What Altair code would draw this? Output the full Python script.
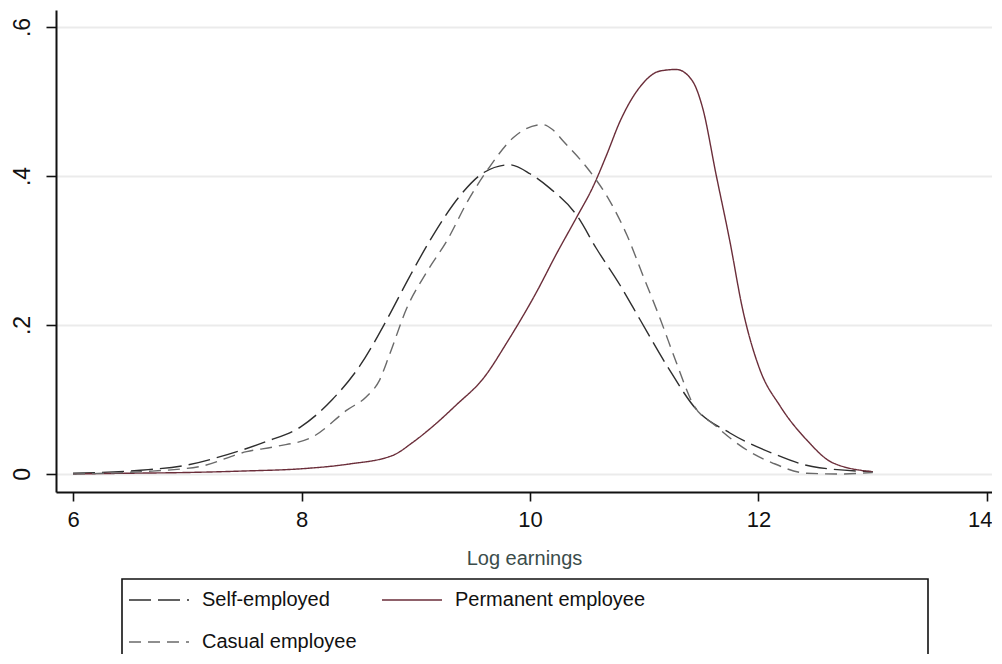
import altair as alt
import pandas as pd

# ---- data ----
series_names = ["Self-employed", "Casual employee", "Permanent employee"]

self_x = [6.0, 6.59, 7.0, 7.35, 7.7, 7.99, 8.27, 8.51, 8.75, 8.95, 9.15, 9.39, 9.6, 9.82,
          10.0, 10.17, 10.41, 10.58, 10.79, 10.96, 11.2, 11.46, 11.75, 12.12, 12.47, 13.0]
self_y = [0.001, 0.005, 0.012, 0.026, 0.044, 0.063, 0.1, 0.145, 0.208, 0.266, 0.32, 0.374, 0.405, 0.415,
          0.403, 0.384, 0.347, 0.303, 0.253, 0.208, 0.145, 0.086, 0.055, 0.028, 0.01, 0.003]

perm_x = [6.0, 6.5, 7.0, 7.5, 8.0, 8.4, 8.8, 8.97, 9.15, 9.35, 9.6, 9.8, 10.06, 10.23, 10.41, 10.55,
          10.67, 10.79, 10.96, 11.14, 11.28, 11.42, 11.51, 11.63, 11.75, 11.86, 12.01, 12.19, 12.42,
          12.65, 13.0]
perm_y = [0.0, 0.001, 0.002, 0.004, 0.007, 0.013, 0.025, 0.042, 0.064, 0.092, 0.13, 0.177, 0.245, 0.295,
          0.345, 0.385, 0.428, 0.474, 0.519, 0.541, 0.543, 0.528, 0.492, 0.401, 0.312, 0.222, 0.141,
          0.091, 0.046, 0.015, 0.003]

cas_x = [6.0, 6.59, 7.11, 7.52, 7.78, 8.1, 8.4, 8.57, 8.68, 8.77, 8.92, 9.1, 9.28, 9.45, 9.65, 9.85,
         10.11, 10.2, 10.29, 10.52, 10.7, 10.85, 10.99, 11.14, 11.28, 11.42, 11.63, 11.9, 12.12, 12.42,
         12.71, 13.0]
cas_y = [0.0, 0.003, 0.01, 0.03, 0.037, 0.05, 0.086, 0.104, 0.125, 0.16, 0.222, 0.272, 0.315, 0.365,
         0.413, 0.451, 0.469, 0.462, 0.447, 0.407, 0.366, 0.32, 0.266, 0.208, 0.15, 0.096, 0.064, 0.032,
         0.015, 0.001, 0.0, 0.002]

x_ticks = [6, 8, 10, 12, 14]
y_ticks = [0, 0.2, 0.4, 0.6]
y_tick_labels = ["0", ".2", ".4", ".6"]

# ---- build table ----
rows = []
for name, xs, ys in [("Self-employed", self_x, self_y),
                     ("Permanent employee", perm_x, perm_y),
                     ("Casual employee", cas_x, cas_y)]:
    for xv, yv in zip(xs, ys):
        rows.append({"series": name, "x": xv, "y": yv})
df = pd.DataFrame(rows)

label_expr = " : ".join(
    [f"datum.value == {v} ? '{l}'" for v, l in zip(y_ticks, y_tick_labels)]
) + " : ''"

FONT = "Liberation Sans, Arial, sans-serif"

color_map = {"Self-employed": "#2e2e2e", "Permanent employee": "#6b2e3a", "Casual employee": "#6a6a6a"}
dash_map = {"Self-employed": [22, 7], "Permanent employee": [1, 0], "Casual employee": [12, 7]}
colors = [color_map[s] for s in series_names]
dashes = [dash_map[s] for s in series_names]

legend_cfg = dict(
    title=None, orient="none", legendX=72, legendY=579,
    columns=2, columnPadding=22, rowPadding=21,
    symbolType="M-1,0H5", symbolSize=400, symbolStrokeWidth=1.4,
    labelOffset=52, labelFont=FONT, labelFontSize=20,
    labelColor="#111111", labelLimit=400, padding=0,
)

lines = alt.Chart(df).mark_line(interpolate="monotone", strokeWidth=1.4).encode(
    x=alt.X("x:Q",
            scale=alt.Scale(domain=[5.851, 14.044], nice=False, zero=False),
            axis=alt.Axis(values=x_ticks, title="Log earnings", grid=False,
                          labelFont=FONT, labelFontSize=22, labelColor="#111111",
                          labelPadding=8, labelFlush=10, labelFlushOffset=5,
                          tickSize=9, tickWidth=1.6, tickColor="#111111",
                          domainColor="#111111", domainWidth=2,
                          titleFont=FONT, titleFontSize=20, titleFontWeight="normal",
                          titleColor="#3b4d4a", titlePadding=18)),
    y=alt.Y("y:Q",
            scale=alt.Scale(domain=[-0.0242, 0.6228], nice=False, zero=False),
            axis=alt.Axis(values=y_ticks, labelExpr=label_expr, title=None,
                          grid=True, gridColor="#ebebeb", gridWidth=2,
                          labelFont=FONT, labelFontSize=23, labelColor="#111111",
                          labelAngle=270, labelAlign="center", labelBaseline="bottom",
                          labelPadding=12, tickSize=10, tickWidth=1.6, tickColor="#111111",
                          domainColor="#111111", domainWidth=2)),
    color=alt.Color("series:N",
                    scale=alt.Scale(domain=series_names, range=colors),
                    legend=alt.Legend(**legend_cfg)),
    strokeDash=alt.StrokeDash("series:N",
                              scale=alt.Scale(domain=series_names, range=dashes),
                              legend=alt.Legend(**legend_cfg)),
)

frame = alt.Chart(alt.Data(values=[{"k": 1}])).mark_rect(
    fill=None, stroke="#111111", strokeWidth=1.6
).encode(
    x=alt.value(66), x2=alt.value(872), y=alt.value(569), y2=alt.value(700)
)

chart = alt.layer(lines, frame).properties(
    width=936, height=482,
    autosize=alt.AutoSizeParams(type="none"),
    padding={"left": 48, "top": 2, "right": 0, "bottom": 162},
    background="white",
).configure_view(stroke=None)

chart.save("out.html", embed_options={"renderer": "svg", "actions": False})
